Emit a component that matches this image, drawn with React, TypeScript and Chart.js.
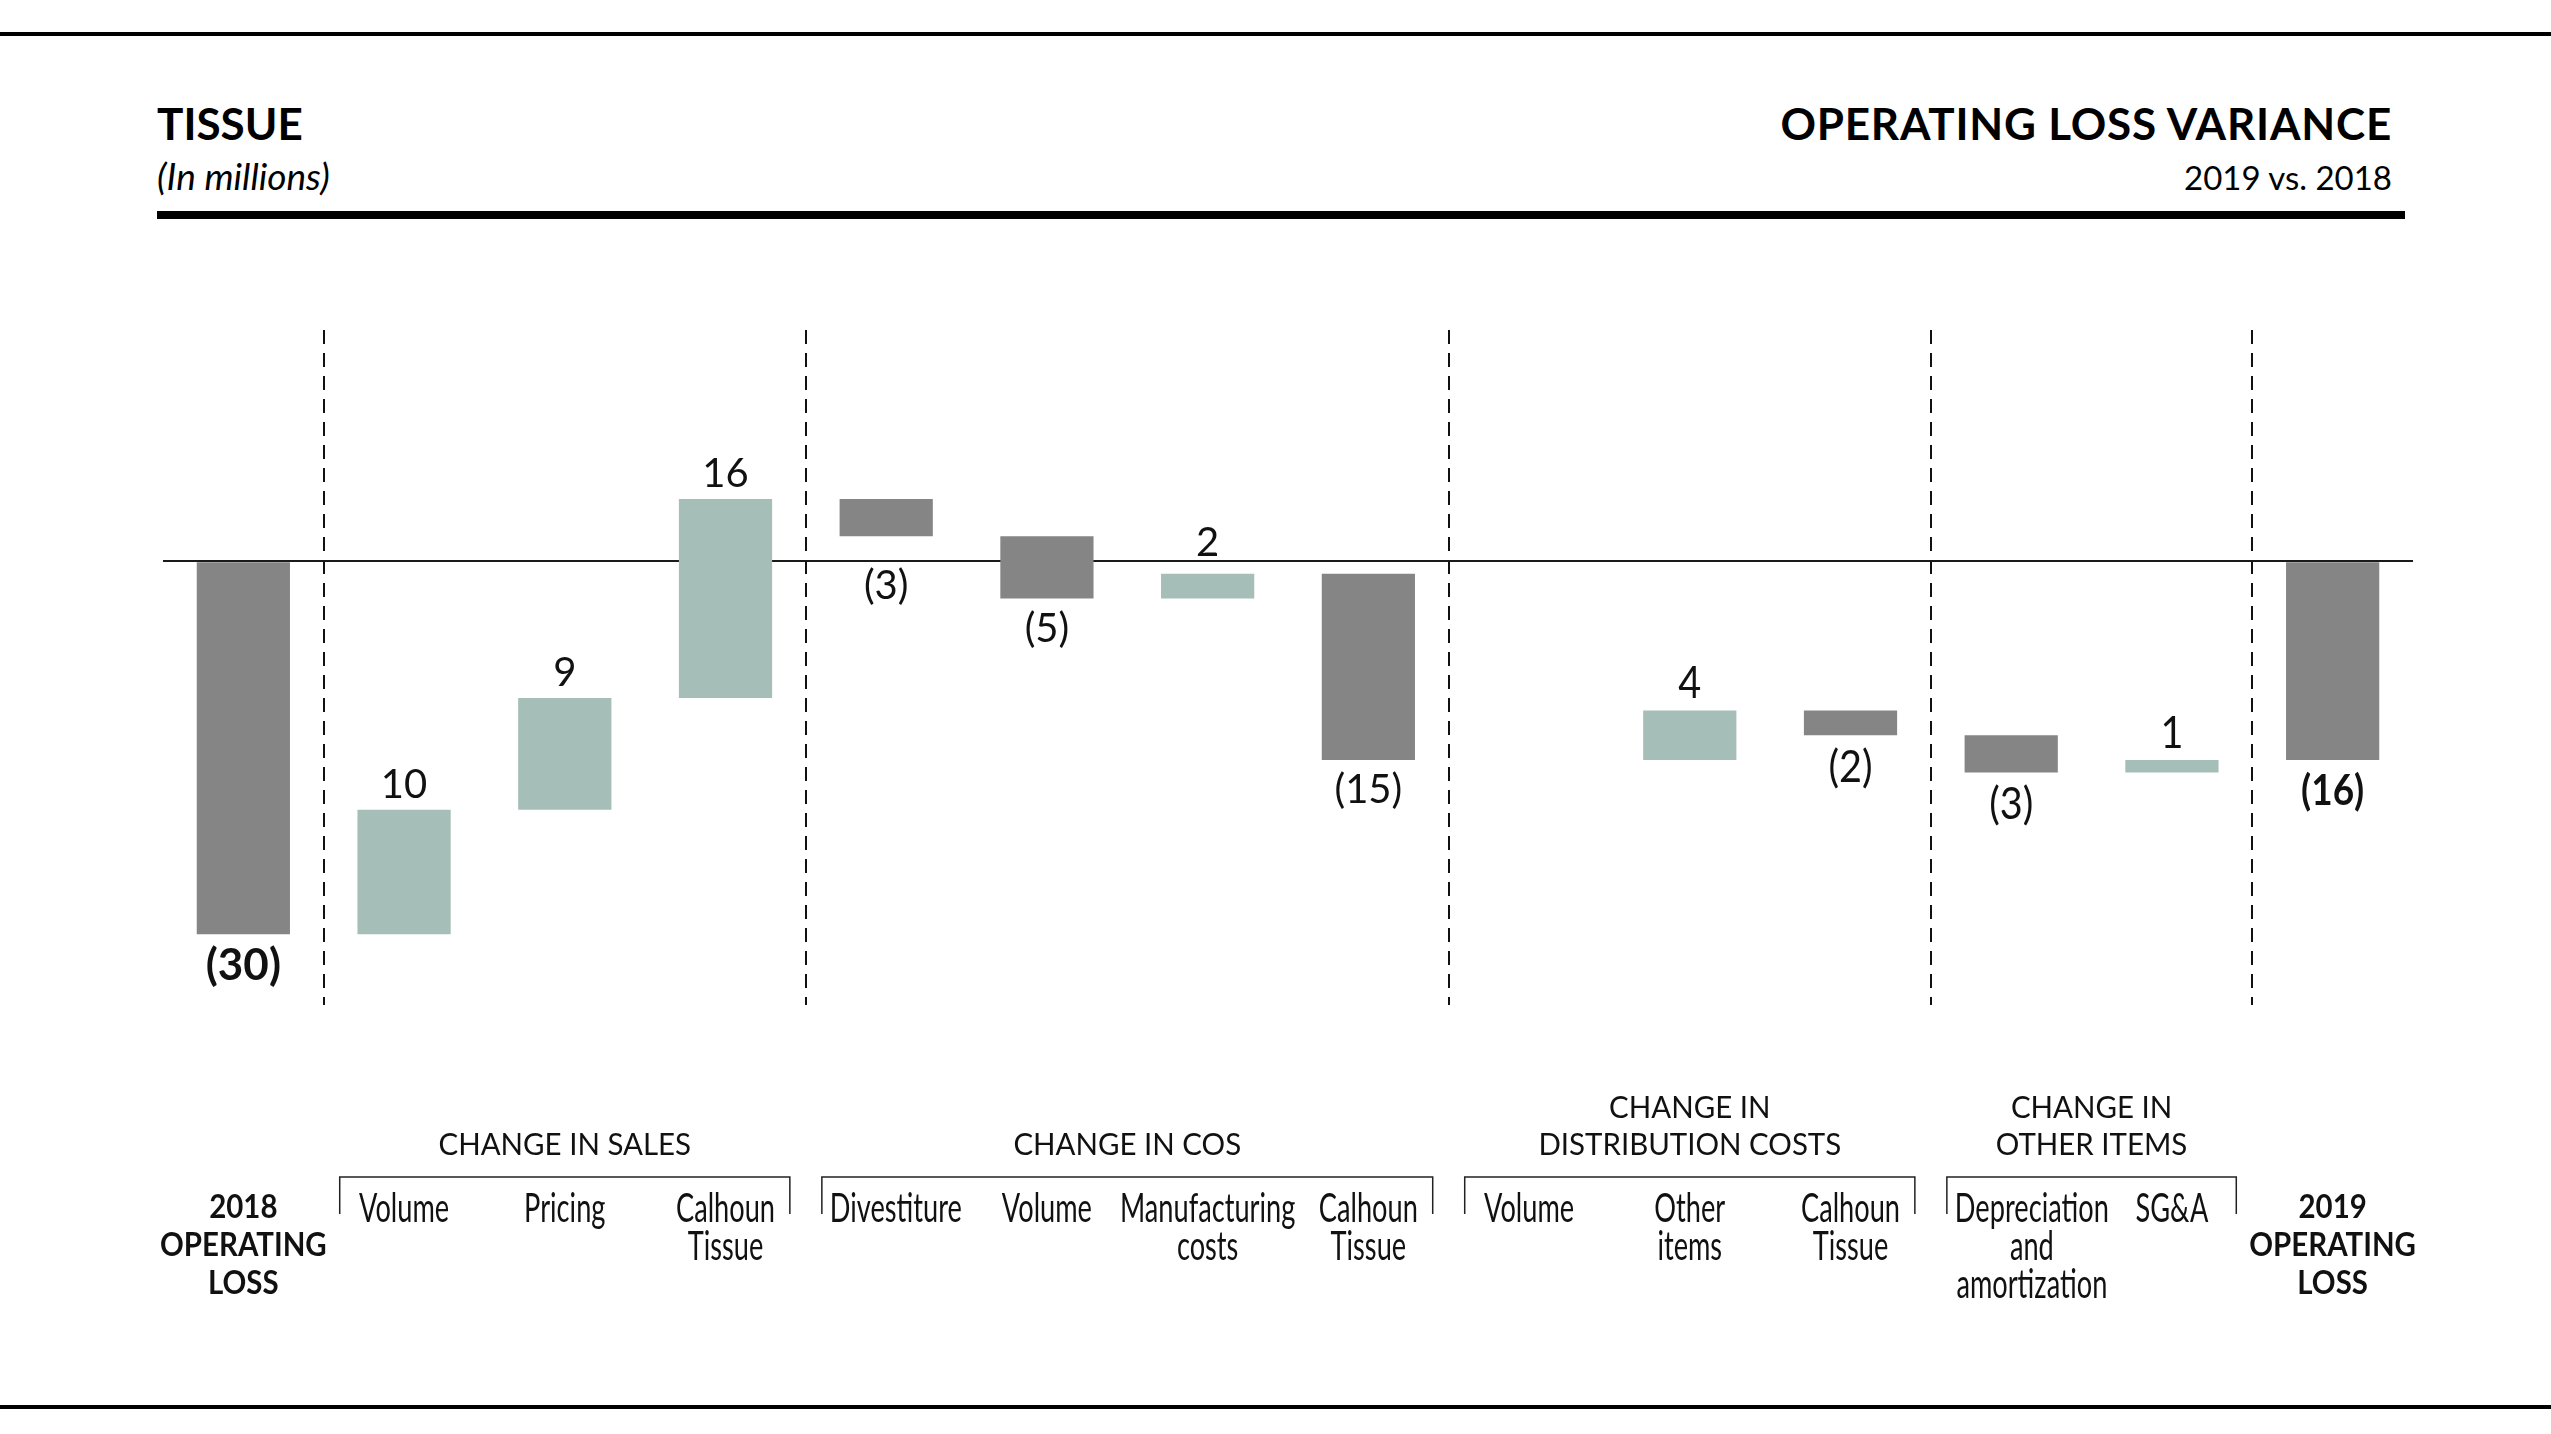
import React, { useEffect, useRef } from 'react';
import { Chart, registerables } from 'chart.js';

Chart.register(...registerables);

// ---------- data ----------
const categories: string[][] = [
  ['2018', 'OPERATING', 'LOSS'],
  ['Volume'],
  ['Pricing'],
  ['Calhoun', 'Tissue'],
  ['Divestiture'],
  ['Volume'],
  ['Manufacturing', 'costs'],
  ['Calhoun', 'Tissue'],
  ['Volume'],
  ['Other', 'items'],
  ['Calhoun', 'Tissue'],
  ['Depreciation', 'and', 'amortization'],
  ['SG&A'],
  ['2019', 'OPERATING', 'LOSS'],
];
const deltas: number[] = [-30, 10, 9, 16, -3, -5, 2, -15, 0, 4, -2, -3, 1, -16];
const isTotal: boolean[] = [true, false, false, false, false, false, false, false, false, false, false, false, false, true];

const groupTitles: string[][] = [
  ['CHANGE IN SALES'],
  ['CHANGE IN COS'],
  ['CHANGE IN', 'DISTRIBUTION COSTS'],
  ['CHANGE IN', 'OTHER ITEMS'],
];
const groupFirst: number[] = [1, 4, 8, 11];
const groupLast: number[] = [3, 7, 10, 12];
const dividerBefore: number[] = [1, 4, 8, 11, 13];

const Y_MIN = -35.7;
const Y_MAX = 18.6;

// ---------- style ----------
const GRAY = '#858585';
const GREEN = '#a5beb7';
const FONT = 'Lato';
const CONDENSED_FROM = 9;

function waterfallRanges(): [number, number][] {
  let run = 0;
  return deltas.map((d, i) => {
    if (isTotal[i]) {
      run = d;
      return [0, d] as [number, number];
    }
    const start = run;
    run += d;
    return [start, run] as [number, number];
  });
}

function fillCondensed(ctx: CanvasRenderingContext2D, text: string, x: number, y: number, ratio: number) {
  const w = ctx.measureText(text).width;
  ctx.fillText(text, x, y, w * ratio);
}

const valueLabels = {
  id: 'valueLabels',
  afterDatasetsDraw(chart: any) {
    const ctx: CanvasRenderingContext2D = chart.ctx;
    const meta = chart.getDatasetMeta(0);
    const zeroY = chart.scales.y.getPixelForValue(0);
    ctx.save();
    ctx.fillStyle = '#111';
    ctx.textAlign = 'center';
    ctx.textBaseline = 'alphabetic';
    meta.data.forEach((bar: any, i: number) => {
      const v = deltas[i];
      if (v === 0) return;
      const { x, y, base } = bar.getProps(['x', 'y', 'base'], true);
      const top = Math.min(y, base);
      const bottom = Math.max(y, base);
      const condensed = i >= CONDENSED_FROM;
      const bold = isTotal[i];
      let size: number;
      let ratio: number;
      if (condensed) {
        size = bold ? 42 : 44;
        ratio = bold ? 0.88 : 0.9;
      } else {
        size = bold ? 44 : 40;
        ratio = 1;
      }
      ctx.font = `${bold ? 700 : 400} ${size}px ${FONT}`;
      const text = v < 0 ? `(${-v})` : `${v}`;
      const asc = 0.78 * size;
      let ty: number;
      if (v > 0) {
        ty = top - 12;
        // keep the label clear of the zero line
        if (ty > zeroY - 5 && ty - asc < zeroY) ty = zeroY - 5;
      } else {
        ty = bottom + 12 + asc;
        if (ty - asc < zeroY + 4 && ty > zeroY) ty = zeroY + 7 + asc;
      }
      fillCondensed(ctx, text, x, ty, ratio);
    });
    ctx.restore();
  },
};

const bottomLabels = {
  id: 'bottomLabels',
  afterDraw(chart: any) {
    const ctx: CanvasRenderingContext2D = chart.ctx;
    const xs = chart.scales.x;
    const area = chart.chartArea;
    const step = xs.getPixelForValue(1) - xs.getPixelForValue(0);
    const inset = 16;
    const brTop = area.bottom + 172;
    const brBottom = area.bottom + 209;

    const brackets = groupFirst.map((f, g) => ({
      left: xs.getPixelForValue(f) - step / 2 + inset,
      right: xs.getPixelForValue(groupLast[g]) + step / 2 - inset,
      first: f,
      last: groupLast[g],
    }));

    ctx.save();
    ctx.fillStyle = '#111';
    ctx.textAlign = 'center';
    ctx.textBaseline = 'alphabetic';

    // brackets + group titles
    brackets.forEach((b, g) => {
      ctx.strokeStyle = '#222';
      ctx.lineWidth = 1.5;
      ctx.beginPath();
      ctx.moveTo(b.left, brBottom);
      ctx.lineTo(b.left, brTop);
      ctx.lineTo(b.right, brTop);
      ctx.lineTo(b.right, brBottom);
      ctx.stroke();

      const cx = (xs.getPixelForValue(b.first) + xs.getPixelForValue(b.last)) / 2;
      ctx.font = `400 31px ${FONT}`;
      const lines = groupTitles[g];
      lines.forEach((line, j) => {
        const ty = area.bottom + 150 - (lines.length - 1 - j) * 37.5;
        fillCondensed(ctx, line, cx, ty, 0.95);
      });
    });

    // category labels
    categories.forEach((lines, i) => {
      const bold = isTotal[i];
      const ratio = bold ? 0.92 : 0.68;
      ctx.font = bold ? `700 32px ${FONT}` : `400 40px ${FONT}`;
      let cx = xs.getPixelForValue(i);
      const bw = Math.max(...lines.map((l) => ctx.measureText(l).width * ratio));
      const b = brackets.find((br) => i >= br.first && i <= br.last);
      if (b) {
        const margin = 8;
        if (cx - bw / 2 < b.left + margin) cx = b.left + margin + bw / 2;
        if (cx + bw / 2 > b.right - margin) cx = b.right - margin - bw / 2;
      }
      const base = area.bottom + (bold ? 213 : 217);
      lines.forEach((line, j) => {
        fillCondensed(ctx, line, cx, base + j * 38, ratio);
      });
    });
    ctx.restore();
  },
};

export default function App() {
  const canvasRef = useRef<HTMLCanvasElement | null>(null);

  useEffect(() => {
    const canvas = canvasRef.current;
    if (!canvas) return;
    const ranges = waterfallRanges();
    const colors = deltas.map((d, i) => (isTotal[i] || d < 0 ? GRAY : GREEN));
    const chart = new Chart(canvas, {
      type: 'bar',
      data: {
        labels: categories.map((c) => c.join(' ')),
        datasets: [
          {
            data: ranges as any,
            backgroundColor: colors,
            borderWidth: 0,
            barPercentage: 0.58,
            categoryPercentage: 1,
          },
        ],
      },
      options: {
        responsive: false,
        animation: false,
        devicePixelRatio: 1,
        events: [],
        layout: { padding: { left: 163, right: 138, top: 330, bottom: 429 } },
        plugins: {
          legend: { display: false },
          tooltip: { enabled: false },
          title: { display: false },
        },
        scales: {
          x: {
            type: 'category',
            offset: true,
            ticks: { display: false },
            border: { display: false, dash: [14, 9] },
            grid: {
              offset: true,
              drawTicks: false,
              lineWidth: 2,
              color: (c: any) => (dividerBefore.includes(c.index) ? '#111' : 'rgba(0,0,0,0)'),
            },
          },
          y: {
            type: 'linear',
            min: Y_MIN,
            max: Y_MAX,
            z: 1,
            ticks: { display: false },
            border: { display: false },
            afterBuildTicks: (s: any) => {
              s.ticks = [{ value: 0 }];
            },
            grid: { drawTicks: false, lineWidth: 2, color: '#1a1a1a' },
          },
        },
      } as any,
      plugins: [valueLabels, bottomLabels],
    });
    let alive = true;
    if ((document as any).fonts && (document as any).fonts.load) {
      Promise.all([
        (document as any).fonts.load(`400 40px ${FONT}`),
        (document as any).fonts.load(`700 40px ${FONT}`),
      ]).then(() => {
        if (alive) chart.update();
      });
    }
    return () => {
      alive = false;
      chart.destroy();
    };
  }, []);

  const text: React.CSSProperties = {
    position: 'absolute',
    fontFamily: FONT,
    lineHeight: 1,
    color: '#000',
    whiteSpace: 'nowrap',
    margin: 0,
  };

  return (
    <div
      style={{
        position: 'absolute',
        left: 0,
        top: 0,
        width: 2551,
        height: 1434,
        background: '#fff',
        overflow: 'hidden',
      }}
    >
      <div style={{ position: 'absolute', left: 0, top: 32, width: 2551, height: 4, background: '#000' }} />
      <div style={{ ...text, left: 157, top: 101, fontSize: 44, fontWeight: 700 }}>TISSUE</div>
      <div style={{ ...text, left: 157, top: 157, fontSize: 37, fontStyle: 'italic' }}>(In millions)</div>
      <div style={{ ...text, right: 159, top: 101, fontSize: 44, fontWeight: 700, letterSpacing: '0.8px' }}>
        OPERATING LOSS VARIANCE
      </div>
      <div style={{ ...text, right: 159, top: 161, fontSize: 33 }}>2019 vs. 2018</div>
      <div style={{ position: 'absolute', left: 157, top: 211, width: 2248, height: 8, background: '#000' }} />
      <canvas
        ref={canvasRef}
        width={2551}
        height={1434}
        style={{ position: 'absolute', left: 0, top: 0, width: 2551, height: 1434 }}
      />
      <div style={{ position: 'absolute', left: 0, top: 1405, width: 2551, height: 4, background: '#000' }} />
    </div>
  );
}
